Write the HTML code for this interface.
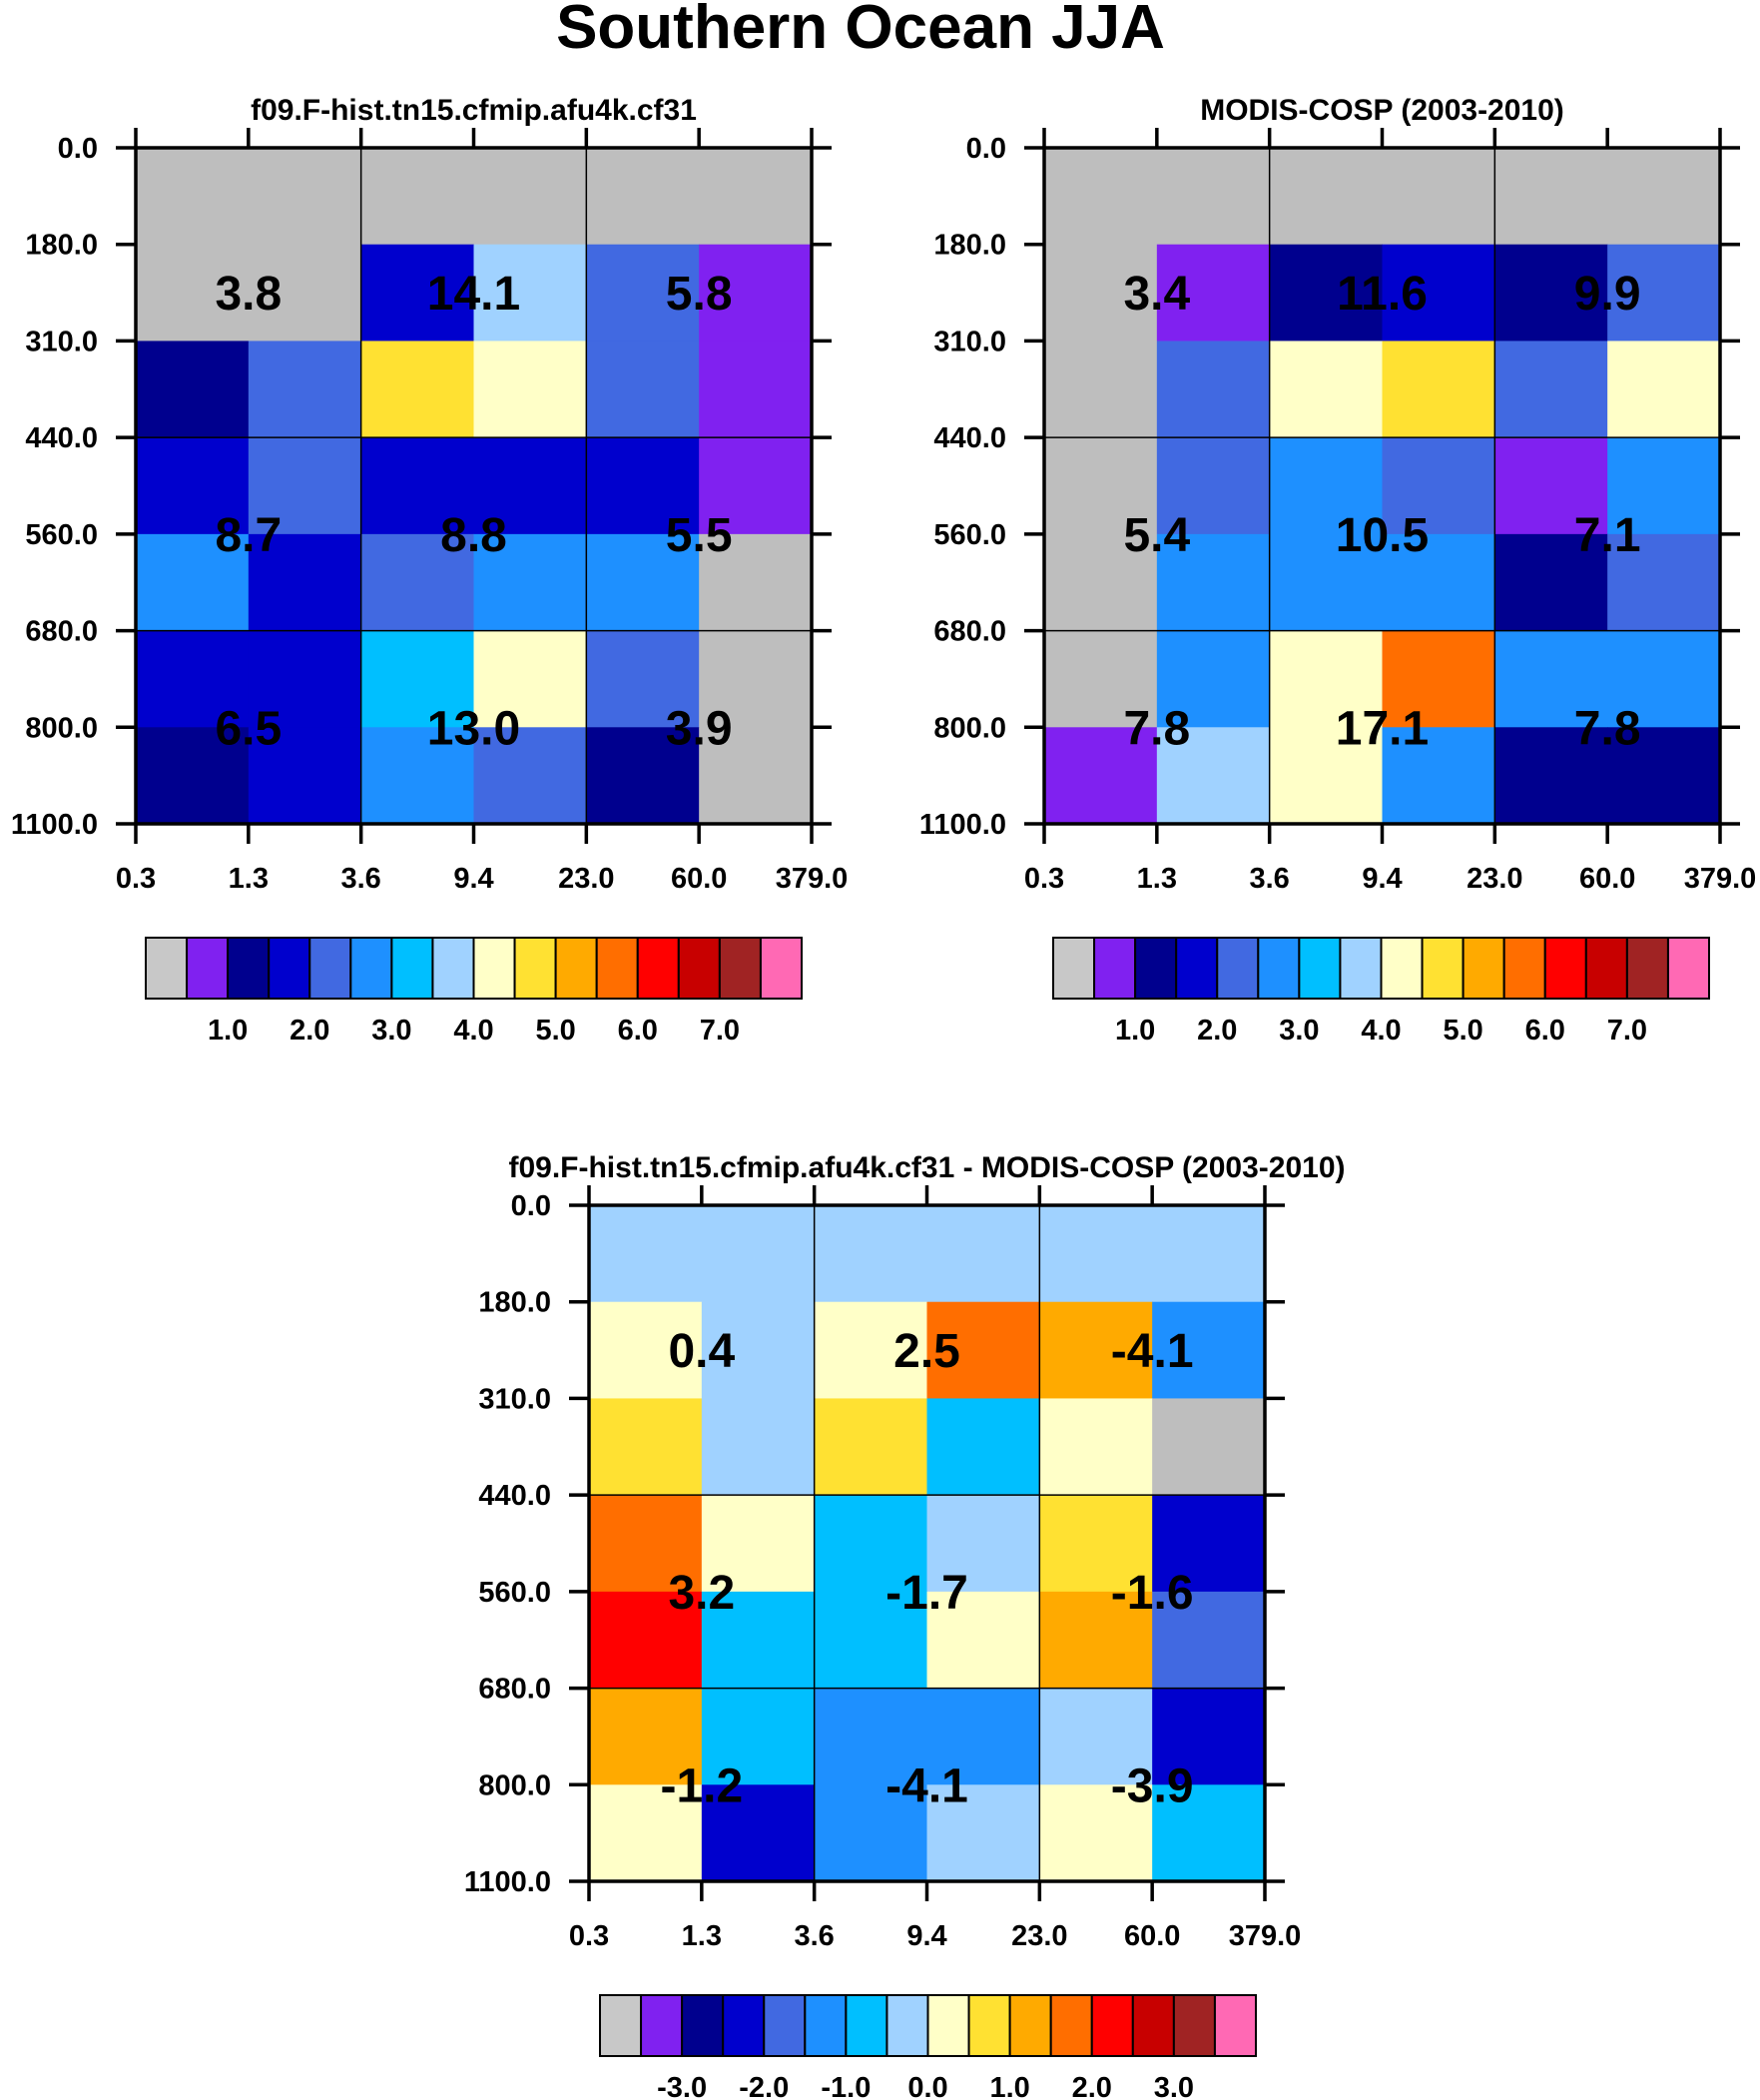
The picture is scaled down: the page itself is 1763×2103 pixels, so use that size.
<!DOCTYPE html>
<html><head><meta charset="utf-8"><style>
html,body{margin:0;padding:0;background:#fff;}
svg{display:block;font-family:"Liberation Sans",Arial,sans-serif;font-weight:bold;}
</style></head><body>
<svg id="fig" width="1763" height="2103" viewBox="0 0 1763 2103">
<text x="862" y="48" text-anchor="middle" font-size="62">Southern Ocean JJA</text>
</svg>
<script>
const xTicks=["0.3","1.3","3.6","9.4","23.0","60.0","379.0"];
const yTicks=["0.0","180.0","310.0","440.0","560.0","680.0","800.0","1100.0"];
const palette=["#bebebe","#8021f0","#00008e","#0000cd","#4169e1","#1e90ff","#00bfff","#a0d2ff","#ffffc8","#ffe132","#ffaa00","#ff6e00","#ff0000","#c80000","#a02323","#ff69b4"];
const cbLabels1=["1.0","2.0","3.0","4.0","5.0","6.0","7.0"];
const cbLabels3=["-3.0","-2.0","-1.0","0.0","1.0","2.0","3.0"];
const N=null;
const modelVals=[
[N,N,N,N,N,N],
[N,N,1.75,3.75,2.25,0.75],
[1.25,2.25,4.75,4.25,2.25,0.75],
[1.75,2.25,1.75,1.75,1.75,0.75],
[2.75,1.75,2.25,2.75,2.75,N],
[1.75,1.75,3.25,4.25,2.25,N],
[1.25,1.75,2.75,2.25,1.25,N]];
const obsVals=[
[N,N,N,N,N,N],
[N,0.75,1.25,1.75,1.25,2.25],
[N,2.25,4.25,4.75,2.25,4.25],
[N,2.25,2.75,2.25,0.75,2.75],
[N,2.75,2.75,2.75,1.25,2.25],
[N,2.75,4.25,5.75,2.75,2.75],
[0.75,3.75,4.25,2.75,1.25,1.25]];
const diffVals=[
[-0.25,-0.25,-0.25,-0.25,-0.25,-0.25],
[0.25,-0.25,0.25,1.75,1.25,-1.25],
[0.75,-0.25,0.75,-0.75,0.25,N],
[1.75,0.25,-0.75,-0.25,0.75,-2.25],
[2.25,-0.75,-0.75,0.25,1.25,-1.75],
[1.25,-0.75,-1.25,-1.25,-0.25,-2.25],
[0.25,-2.25,-1.25,-0.25,0.25,-0.75]];
const modelText=["3.8","14.1","5.8","8.7","8.8","5.5","6.5","13.0","3.9"];
const obsText=["3.4","11.6","9.9","5.4","10.5","7.1","7.8","17.1","7.8"];
const diffText=["0.4","2.5","-4.1","3.2","-1.7","-1.6","-1.2","-4.1","-3.9"];
const textRows=[1.5,4,6];
const textCols=[1,3,5];

const svg=document.getElementById('fig');
const NS="http://www.w3.org/2000/svg";
function mk(tag,attrs,parent){const e=document.createElementNS(NS,tag);for(const k in attrs)e.setAttribute(k,attrs[k]);(parent||svg).appendChild(e);return e;}

function panel(name,x0,y0,size,title,vals,txt,lo,step,cbx,cby,cbLabels){
  const g=mk('g',{});
  
  
  const cw=size/6,ch=size/7;
  const X=i=>x0+i*cw, Y=j=>y0+j*ch;
  const t=mk('text',{x:x0+size/2,y:y0-28,'text-anchor':'middle','font-size':30},g);
  t.textContent=title;
  
  
  vals.forEach((row,j)=>row.forEach((v,i)=>{
    let idx=0;
    if(v!==null){idx=Math.floor((v-lo)/step);idx=Math.max(1,Math.min(15,idx));}
    const r=mk('rect',{x:X(i),y:Y(j),width:cw+0.5,height:ch+0.5,fill:palette[idx]},g);
    
    
  }));
  [2,4].forEach(i=>{const l=mk('line',{x1:X(i),y1:y0,x2:X(i),y2:y0+size,stroke:'#000','stroke-width':1.5},g);
    });
  [3,5].forEach(j=>{const l=mk('line',{x1:x0,y1:Y(j),x2:x0+size,y2:Y(j),stroke:'#000','stroke-width':1.5},g);
    });
  const fr=mk('rect',{x:x0,y:y0,width:size,height:size,fill:'none',stroke:'#000','stroke-width':3.5},g);
  
  xTicks.forEach((s,i)=>{
    mk('line',{x1:X(i),y1:y0-20,x2:X(i),y2:y0,stroke:'#000','stroke-width':3.5},g);
    mk('line',{x1:X(i),y1:y0+size,x2:X(i),y2:y0+size+20,stroke:'#000','stroke-width':3.5},g);
    const tl=mk('text',{x:X(i),y:y0+size+64,'text-anchor':'middle','font-size':29},g);
    tl.textContent=s;
  });
  yTicks.forEach((s,j)=>{
    mk('line',{x1:x0-20,y1:Y(j),x2:x0,y2:Y(j),stroke:'#000','stroke-width':3.5},g);
    mk('line',{x1:x0+size,y1:Y(j),x2:x0+size+20,y2:Y(j),stroke:'#000','stroke-width':3.5},g);
    const tl=mk('text',{x:x0-38,y:Y(j)+10,'text-anchor':'end','font-size':29},g);
    tl.textContent=s;
  });
  txt.forEach((s,k)=>{
    const tv=mk('text',{x:X(textCols[k%3]),y:Y(textRows[Math.floor(k/3)])+17,'text-anchor':'middle','font-size':48},g);
    tv.textContent=s;
  });
  const cb=mk('g',{},g);
  
  
  const bw=657/16,bh=61;
  palette.forEach((c,i)=>{
    const b=mk('rect',{x:cbx+i*bw,y:cby,width:bw,height:bh,fill:i===0?'#c8c8c8':c,stroke:'#000','stroke-width':2},cb);
    
  });
  cbLabels.forEach((s,k)=>{
    const tl=mk('text',{x:cbx+(2+2*k)*bw,y:cby+bh+41,'text-anchor':'middle','font-size':29},cb);
    tl.textContent=s;
  });
}
panel('model-panel',136,148,677,'f09.F-hist.tn15.cfmip.afu4k.cf31',modelVals,modelText,0,0.5,146,939,cbLabels1);
panel('obs-panel',1046,148,677,'MODIS-COSP (2003-2010)',obsVals,obsText,0,0.5,1055,939,cbLabels1);
panel('diff-panel',590,1207,677,'f09.F-hist.tn15.cfmip.afu4k.cf31 - MODIS-COSP (2003-2010)',diffVals,diffText,-4,0.5,601,1998,cbLabels3);
</script>
</body></html>
